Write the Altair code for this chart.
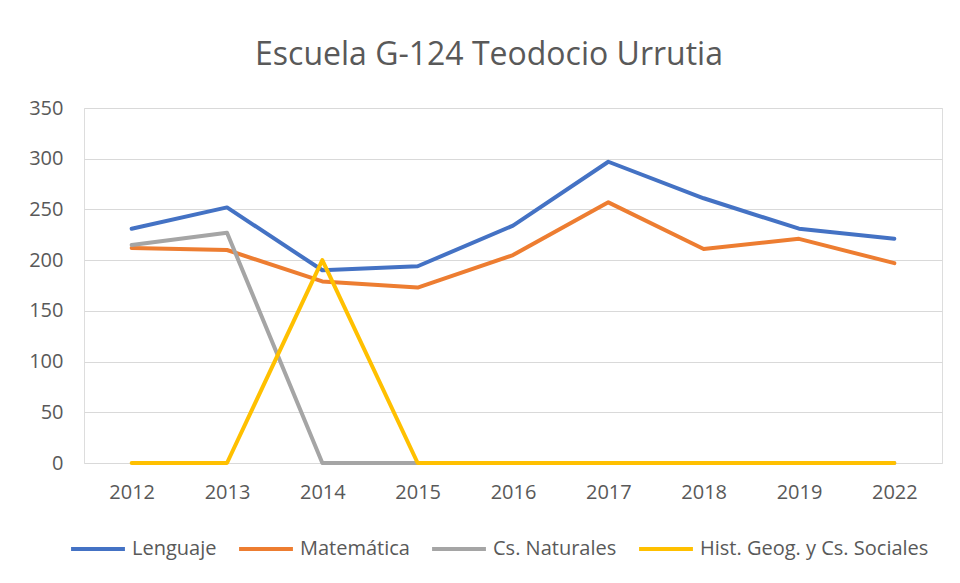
import altair as alt
import pandas as pd

years = ["2012", "2013", "2014", "2015", "2016", "2017", "2018", "2019", "2022"]
lenguaje = [231, 252, 190, 194, 234, 297, 261, 231, 221]
matematica = [212, 210, 179, 173, 205, 257, 211, 221, 197]
naturales = [215, 227, 0, 0, 0, 0, 0, 0, 0]
historia = [0, 0, 200, 0, 0, 0, 0, 0, 0]

series = ["Lenguaje", "Matemática", "Cs. Naturales", "Hist. Geog. y Cs. Sociales"]
colors = ["#4472C4", "#ED7D31", "#A5A5A5", "#FFC000"]

rows = []
for name, vals in zip(series, [lenguaje, matematica, naturales, historia]):
    for y, v in zip(years, vals):
        rows.append({"Año": y, "Valor": v, "Serie": name, "orden": series.index(name)})
df = pd.DataFrame(rows)

font = "Open Sans"
grey = "#595959"

chart = alt.Chart(df).mark_line(strokeWidth=4, strokeCap="round", strokeJoin="round").encode(
    x=alt.X("Año:N", sort=years, scale=alt.Scale(type="point", padding=0.5),
            axis=alt.Axis(title=None, labelAngle=0, ticks=False, domain=False, grid=False,
                          labelFontSize=20, labelColor=grey, labelFont=font, labelPadding=19)),
    y=alt.Y("Valor:Q", scale=alt.Scale(domain=[0, 350], nice=False),
            axis=alt.Axis(title=None, values=[0, 50, 100, 150, 200, 250, 300, 350], ticks=False,
                          domain=False, gridColor="#D9D9D9", gridWidth=1.2,
                          labelFontSize=20, labelColor=grey, labelFont=font, labelPadding=21)),
    color=alt.Color("Serie:N", scale=alt.Scale(domain=series, range=colors),
                    legend=alt.Legend(title=None, orient="none", direction="horizontal",
                                      legendX=-15, legendY=412, symbolType="stroke",
                                      symbolStrokeWidth=4, symbolSize=2900, labelFontSize=20,
                                      labelColor=grey, labelFont=font, columnPadding=14,
                                      labelOffset=5, labelLimit=0)),
    order=alt.Order("orden:Q"),
    detail="Serie:N",
).properties(
    width=858,
    height=355,
    title=alt.TitleParams("Escuela G-124 Teodocio Urrutia", fontSize=32, font=font,
                          fontWeight="normal", color=grey, anchor="middle", offset=26, dx=-24),
    autosize=alt.AutoSizeParams(type="none"),
    padding={"left": 76, "top": 100, "right": 8, "bottom": 110},
).configure_view(strokeWidth=0, stroke="transparent").configure(background="white")

chart.save("out.html", embed_options={"renderer": "svg", "actions": False})
